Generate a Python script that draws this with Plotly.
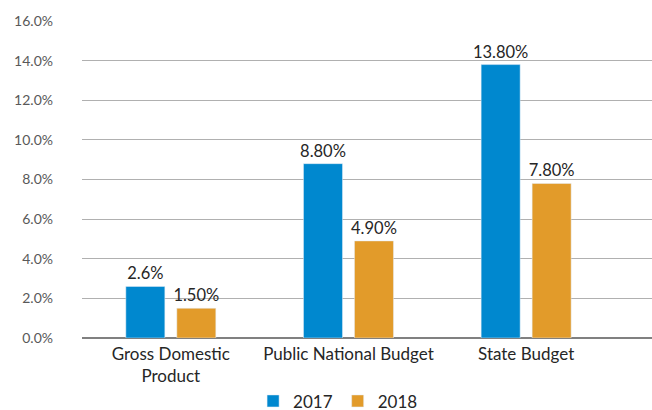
import plotly.graph_objects as go

categories = ["Gross Domestic<br>Product", "Public National Budget", "State Budget"]
values_2017 = [2.6, 8.8, 13.8]
values_2018 = [1.5, 4.9, 7.8]
labels_2017 = ["2.6%", "8.80%", "13.80%"]
labels_2018 = ["1.50%", "4.90%", "7.80%"]
tick_vals = [0, 2, 4, 6, 8, 10, 12, 14, 16]
tick_text = ["0.0%", "2.0%", "4.0%", "6.0%", "8.0%", "10.0%", "12.0%", "14.0%", "16.0%"]

FONT = "Lato, 'Open Sans', sans-serif"

fig = go.Figure()
fig.add_trace(go.Bar(name="2017", x=categories, y=values_2017, text=labels_2017,
                     textposition="outside", marker_color="#0088cf", constraintext="none",
                     textfont=dict(size=16.5, color="#262626", family=FONT), cliponaxis=False))
fig.add_trace(go.Bar(name="2018", x=categories, y=values_2018, text=labels_2018,
                     textposition="outside", marker_color="#e29b2a", constraintext="none",
                     textfont=dict(size=16.5, color="#262626", family=FONT), cliponaxis=False))

fig.update_layout(
    width=664, height=410,
    margin=dict(l=82, r=0, t=21, b=71.5, autoexpand=False),
    paper_bgcolor="white", plot_bgcolor="white",
    barmode="group", bargap=0.426, bargroupgap=0.235,
    font=dict(family=FONT, size=17, color="#262626"),
    showlegend=True,
    legend=dict(orientation="h", x=0.44, xanchor="center", y=-0.2, yanchor="middle",
                font=dict(size=17, color="#262626", family=FONT), itemwidth=30),
)
fig.update_xaxes(range=[-0.5, 2.776], showgrid=False, showline=False, ticks="",
                 ticklabelstandoff=4,
                 tickfont=dict(size=17, color="#262626", family=FONT), zeroline=False)
fig.update_yaxes(range=[0, 16], tickvals=tick_vals, ticktext=tick_text,
                 showgrid=True, gridcolor="#b0b0b0", gridwidth=1.3,
                 zeroline=True, zerolinecolor="#808080", zerolinewidth=1.5,
                 showline=False, ticks="", ticklabelstandoff=28,
                 tickfont=dict(size=14, color="#595959", family=FONT))

fig.write_html("out.html", config={"displayModeBar": False},
               post_script="document.body.style.margin='0';document.body.style.overflow='hidden';")
